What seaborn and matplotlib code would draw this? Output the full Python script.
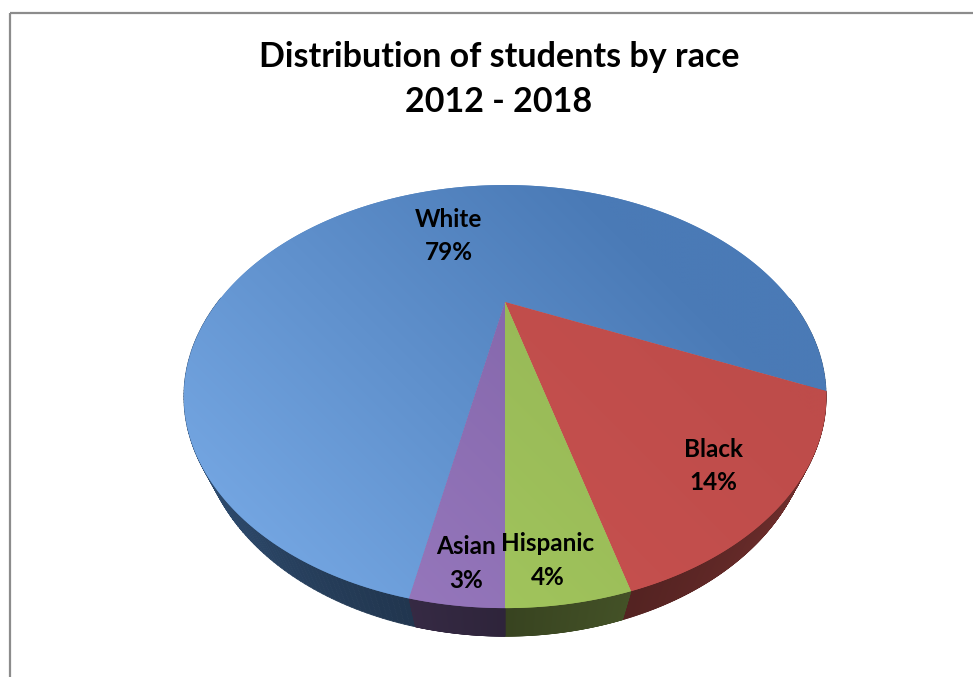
import numpy as np
import matplotlib
matplotlib.use("Agg")
import matplotlib.pyplot as plt
import seaborn as sns
from matplotlib.patches import Polygon, Rectangle
from matplotlib.collections import PolyCollection
from matplotlib.colors import to_rgb

# ---- data -------------------------------------------------------------
categories = ["White", "Black", "Hispanic", "Asian"]
shares = [79, 14, 4, 3]
title_lines = ["Distribution of students by race", "2012 - 2018"]

# ---- style ------------------------------------------------------------
sns.set_theme(style="white")
plt.rcParams["font.family"] = ["Lato", "DejaVu Sans"]
palette = sns.color_palette(["#4F81BD", "#C0504D", "#9BBB59", "#8064A2"])
dark_tone = ["#4A7AB6", "#BE4C4A", "#94B455", "#7F62A6"]
light_tone = ["#76A8E4", "#CB5351", "#A6CB5F", "#9A7BC0"]

# ---- 3-D view of the pie (unit radius disc, perspective camera) ----------
W, H = 973, 677
cx, cy = 505.0, 302.0          # screen position of the pie centre
focal = 519.0
elev = np.deg2rad(36.1)
sn, cs = np.sin(elev), np.cos(elev)
cam_dist = 1.807
thickness = 0.126
first_slice_angle = 190.8       # clockwise from 12 o'clock
label_radius = [0.50, 0.84, 0.90, 0.92]
label_nudge = [(-2, -3), (-8, 10), (-11, 7), (3, -1)]   # pixels


def project(x, y, z):
    d = cam_dist + y * cs - z * sn
    return cx + focal * x / d, cy - focal * (y * sn + z * cs) / d


fig = plt.figure(figsize=(W / 100, H / 100), dpi=100)
ax = fig.add_axes([0, 0, 1, 1])
ax.set_xlim(0, W)
ax.set_ylim(H, 0)
ax.axis("off")

# chart-area frame
ax.add_patch(Rectangle((10, 12.5), W + 20, H + 20, fill=False,
                       edgecolor="#8C8C8C", linewidth=1.6, zorder=5))

frac = np.asarray(shares, dtype=float) / np.sum(shares)
edges = first_slice_angle + 360.0 * np.concatenate([[0], np.cumsum(frac)])

# side walls (front half of the rim)
for i, cat in enumerate(categories):
    a1, a2 = edges[i], edges[i + 1]
    phis = np.deg2rad(90.0 - np.linspace(a1, a2, 400))
    quads, cols = [], []
    base = np.array(to_rgb(palette[i]))
    for p0, p1 in zip(phis[:-1], phis[1:]):
        pm = 0.5 * (p0 + p1)
        if np.sin(pm) >= 0.02:
            continue
        t0 = project(np.cos(p0), np.sin(p0), 0.0)
        t1 = project(np.cos(p1), np.sin(p1), 0.0)
        b1 = project(np.cos(p1), np.sin(p1), -thickness)
        b0 = project(np.cos(p0), np.sin(p0), -thickness)
        quads.append([t0, t1, b1, b0])
        shade = 0.36 + 0.30 * abs(np.cos(pm))
        cols.append(np.clip(base * shade, 0, 1))
    if quads:
        ax.add_collection(PolyCollection(quads, facecolors=cols,
                                         edgecolors=cols, linewidths=0.6,
                                         zorder=1))

# top faces with a soft light gradient (lighter toward lower left)
x0, x1, y0, y1 = 150, 860, 160, 660
gx, gy = np.meshgrid(np.linspace(x0, x1, 300), np.linspace(y0, y1, 300))
tgrad = ((x1 - gx) + (gy - y0)) / ((x1 - x0) + (y1 - y0))
tgrad = np.clip((tgrad - 0.25) / 0.6, 0, 1)[..., None]

for i, cat in enumerate(categories):
    a1, a2 = edges[i], edges[i + 1]
    phis = np.deg2rad(90.0 - np.linspace(a1, a2, 500))
    pts = [project(0.0, 0.0, 0.0)] + [project(np.cos(p), np.sin(p), 0.0) for p in phis]
    face = Polygon(pts, closed=True, facecolor=palette[i], edgecolor="none",
                   zorder=2)
    ax.add_patch(face)
    c_dark = np.array(to_rgb(dark_tone[i]))
    c_light = np.array(to_rgb(light_tone[i]))
    img = c_dark * (1 - tgrad) + c_light * tgrad
    im = ax.imshow(img, extent=(x0, x1, y1, y0), origin="upper",
                   aspect="auto", zorder=3, interpolation="bilinear")
    im.set_clip_path(face)

    # data label near the slice middle
    am = np.deg2rad(90.0 - 0.5 * (a1 + a2))
    r = label_radius[i]
    lx, ly = project(r * np.cos(am), r * np.sin(am), 0.0)
    lx += label_nudge[i][0]
    ly += label_nudge[i][1]
    ax.text(lx, ly, f"{cat}\n{shares[i]}%", ha="center", va="center",
            fontsize=17.5, fontweight="bold", color="black",
            linespacing=1.55, zorder=6)

ax.set_xlim(0, W)
ax.set_ylim(H, 0)

for line, ty in zip(title_lines, [57, 102]):
    ax.text(499, ty, line, ha="center", va="center", fontsize=24.5,
            fontweight="bold", color="black", zorder=6)

fig.savefig("out.png", dpi=100, facecolor="white")
